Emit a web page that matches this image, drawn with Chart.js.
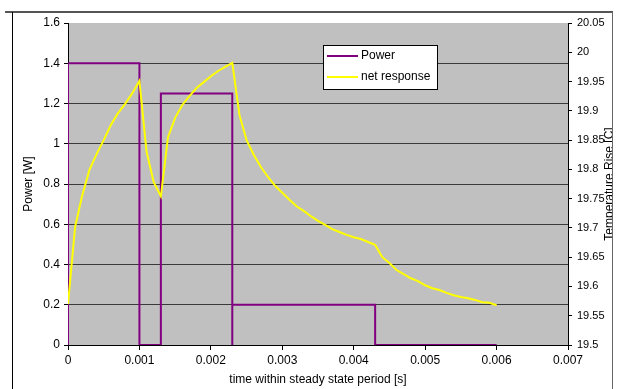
<!DOCTYPE html>
<html><head><meta charset="utf-8">
<script src="https://cdn.jsdelivr.net/npm/chart.js@4/dist/chart.umd.min.js"></script>
<style>html,body{margin:0;padding:0;background:#fff;overflow:hidden}</style>
</head><body>
<canvas id="c" width="620" height="389"></canvas>
<script>
// ---- data ----
const powerTime   = [0, 0, 0.001, 0.001, 0.0013, 0.0013, 0.0023, 0.0023, 0.0023, 0.0043, 0.0043, 0.006];
const powerValues = [0, 1.4, 1.4, 0, 0, 1.25, 1.25, 0, 0.2, 0.2, 0, 0];

const responseTime = [0, 0.0001, 0.0002, 0.0003, 0.0004, 0.0005, 0.0006, 0.0007, 0.0008, 0.0009,
  0.001, 0.0011, 0.0012, 0.0013, 0.0014, 0.0015, 0.0016, 0.0017, 0.0018, 0.0019,
  0.002, 0.0021, 0.0022, 0.0023, 0.0024, 0.0025, 0.0026, 0.0027, 0.0028, 0.0029,
  0.003, 0.0031, 0.0032, 0.0033, 0.0034, 0.0035, 0.0036, 0.0037, 0.0038, 0.0039,
  0.004, 0.0041, 0.0042, 0.0043, 0.0044, 0.0045, 0.0046, 0.0047, 0.0048, 0.0049,
  0.005, 0.0051, 0.0052, 0.0053, 0.0054, 0.0055, 0.0056, 0.0057, 0.0058, 0.0059, 0.006];
const responseValues = [19.570, 19.702, 19.756, 19.799, 19.826, 19.850, 19.876, 19.896, 19.912, 19.930,
  19.951, 19.830, 19.778, 19.754, 19.855, 19.888, 19.910, 19.925, 19.939, 19.949,
  19.959, 19.968, 19.975, 19.982, 19.893, 19.850, 19.825, 19.804, 19.787, 19.772,
  19.760, 19.748, 19.737, 19.729, 19.720, 19.712, 19.705, 19.698, 19.693, 19.688,
  19.684, 19.681, 19.676, 19.671, 19.650, 19.640, 19.628, 19.621, 19.614, 19.609,
  19.602, 19.597, 19.594, 19.589, 19.585, 19.582, 19.580, 19.577, 19.573, 19.572, 19.568];

const xTickLabels     = ['0', '0.001', '0.002', '0.003', '0.004', '0.005', '0.006', '0.007'];
const powerTickLabels = ['0', '0.2', '0.4', '0.6', '0.8', '1', '1.2', '1.4', '1.6'];
const tempTickLabels  = ['19.5', '19.55', '19.6', '19.65', '19.7', '19.75', '19.8', '19.85', '19.9', '19.95', '20', '20.05'];

const seriesNames = ['Power', 'net response'];
const xTitle = 'time within steady state period [s]';
const yTitle = 'Power [W]';
const y2Title = 'Temperature Rise [C]';

// ---- chart ----
const FONT = "'Liberation Sans', Arial, sans-serif";
const PURPLE = '#800080', YELLOW = '#FFFF00';

function fixedTicks(labels) {
  return function (scale) { scale.ticks = labels.map(l => ({ value: parseFloat(l) })); };
}
function labelCb(labels) {
  return function (v, i) { return labels[i]; };
}

const decor = {
  id: 'decor',
  beforeDraw(chart) {
    const { ctx, chartArea: a } = chart;
    ctx.save();
    ctx.fillStyle = '#C0C0C0';
    ctx.fillRect(a.left, a.top, a.right - a.left, a.bottom - a.top);
    ctx.restore();
  },
  afterDraw(chart) {
    const { ctx, chartArea: a } = chart;
    ctx.save();
    // legend
    const lx = 323, ly = 45, lw = 114, lh = 44;
    ctx.fillStyle = '#fff';
    ctx.fillRect(lx, ly, lw, lh);
    ctx.strokeStyle = '#000'; ctx.lineWidth = 1;
    ctx.strokeRect(lx + 0.5, ly + 0.5, lw, lh);
    const items = [[seriesNames[0], PURPLE, 56], [seriesNames[1], YELLOW, 77]];
    ctx.font = '12px ' + FONT;
    ctx.textBaseline = 'middle';
    ctx.textAlign = 'left';
    items.forEach(([t, c, y]) => {
      ctx.strokeStyle = c; ctx.lineWidth = 2;
      ctx.beginPath(); ctx.moveTo(327, y); ctx.lineTo(358, y); ctx.stroke();
      ctx.fillStyle = '#000';
      ctx.fillText(t, 361, y);
    });
    // right axis title (reads bottom-to-top, clipped by frame)
    ctx.save();
    ctx.beginPath(); ctx.rect(0, 0, 612, 389); ctx.clip();
    ctx.translate(613, (a.top + a.bottom) / 2);
    ctx.rotate(-Math.PI / 2);
    ctx.textAlign = 'center';
    ctx.textBaseline = 'alphabetic';
    ctx.fillStyle = '#000';
    ctx.font = '12px ' + FONT;
    ctx.fillText(y2Title, 0, 0);
    ctx.restore();
    // frame
    ctx.strokeStyle = '#555'; ctx.lineWidth = 2;
    ctx.beginPath(); ctx.moveTo(5, 12); ctx.lineTo(613, 12); ctx.stroke();
    ctx.strokeStyle = '#000'; ctx.lineWidth = 1;
    ctx.beginPath(); ctx.moveTo(12.5, 12); ctx.lineTo(12.5, 389); ctx.stroke();
    ctx.strokeStyle = '#666';
    ctx.beginPath(); ctx.moveTo(612.5, 12); ctx.lineTo(612.5, 389); ctx.stroke();
    ctx.restore();
  }
};

new Chart(document.getElementById('c'), {
  type: 'line',
  data: {
    datasets: [
      {
        label: seriesNames[0],
        data: powerTime.map((x, i) => ({ x, y: powerValues[i] })),
        borderColor: PURPLE, borderWidth: 2, pointRadius: 0, tension: 0,
        yAxisID: 'y', order: 2
      },
      {
        label: seriesNames[1],
        data: responseTime.map((x, i) => ({ x, y: responseValues[i] })),
        borderColor: YELLOW, borderWidth: 2, pointRadius: 0, tension: 0,
        yAxisID: 'y2', order: 1
      }
    ]
  },
  options: {
    responsive: false, animation: false, devicePixelRatio: 1,
    layout: { padding: { top: 23, left: 0, right: 0, bottom: 0 } },
    plugins: { legend: { display: false }, tooltip: { enabled: false } },
    scales: {
      x: {
        type: 'linear', min: 0, max: 0.007,
        afterBuildTicks: fixedTicks(xTickLabels),
        afterFit(s) { s.height = 44; },
        ticks: { callback: labelCb(xTickLabels), color: '#000', font: { family: FONT, size: 12 }, padding: 3, maxRotation: 0, autoSkip: false },
        grid: { drawOnChartArea: false, tickLength: 5, color: '#000', tickColor: '#000' },
        border: { color: '#000', width: 1 },
        title: { display: true, text: xTitle, color: '#000', font: { family: FONT, size: 12 }, padding: { top: 0, bottom: 2 } }
      },
      y: {
        type: 'linear', position: 'left', min: 0, max: 1.6,
        afterBuildTicks: fixedTicks(powerTickLabels),
        afterFit(s) { s.width = 68; },
        ticks: { callback: labelCb(powerTickLabels), color: '#000', font: { family: FONT, size: 12 }, padding: 4, autoSkip: false },
        grid: {
          color: c => (c.tick && c.tick.value >= 1.6) ? 'rgba(0,0,0,0)' : '#3a3a3a',
          tickColor: '#000', tickLength: 4
        },
        border: { color: '#000', width: 1 },
        title: { display: true, text: yTitle, color: '#000', font: { family: FONT, size: 12 }, padding: { top: 21, bottom: 0 } }
      },
      y2: {
        type: 'linear', position: 'right', min: 19.5, max: 20.05,
        afterBuildTicks: fixedTicks(tempTickLabels),
        afterFit(s) { s.width = 52; },
        ticks: { callback: labelCb(tempTickLabels), color: '#000', font: { family: FONT, size: 11 }, padding: 5, autoSkip: false },
        grid: { drawOnChartArea: false, tickLength: 4, color: '#000', tickColor: '#000' },
        border: { color: '#000', width: 1 },
        title: { display: false }
      }
    }
  },
  plugins: [decor]
});
</script>
</body></html>
